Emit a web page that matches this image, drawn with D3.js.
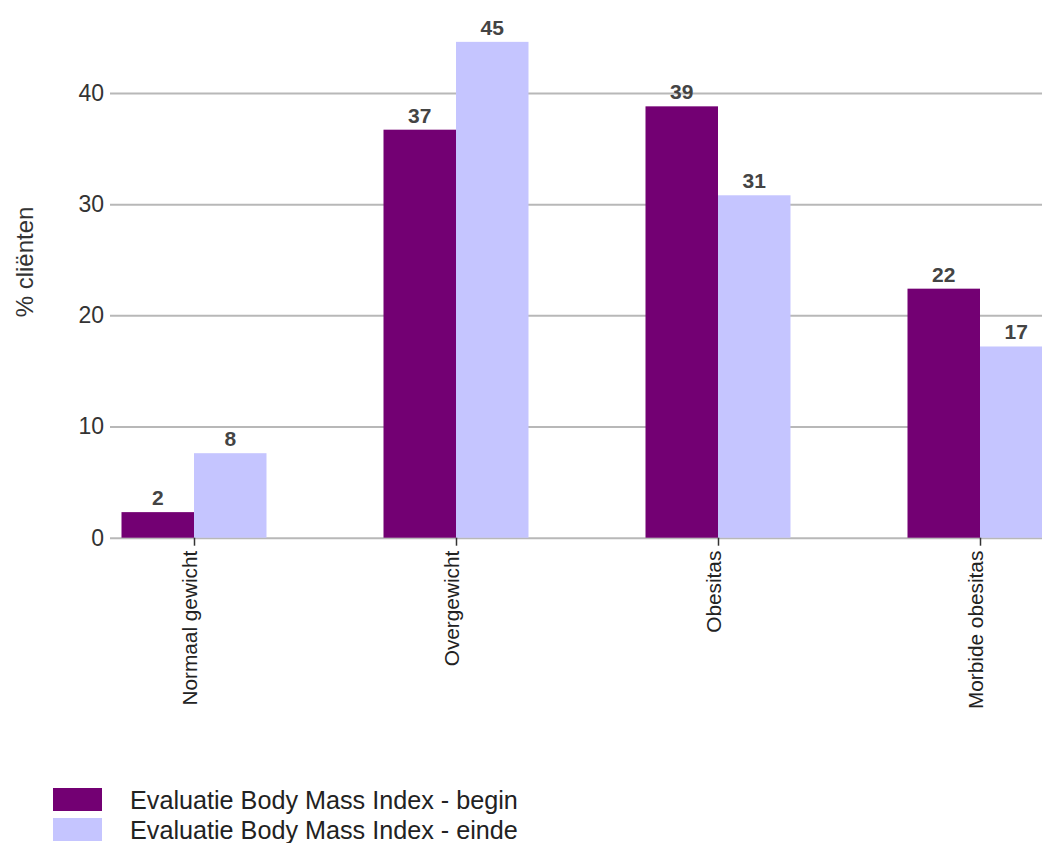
<!DOCTYPE html>
<html>
<head>
<meta charset="utf-8">
<script src="https://cdn.jsdelivr.net/npm/d3@7/dist/d3.min.js"></script>
<style>
  html, body { margin: 0; padding: 0; background: #fff; }
  svg { display: block; font-family: "Liberation Sans", Arial, sans-serif; }
</style>
</head>
<body>
<svg id="chart" width="1042" height="843"></svg>
<script>
// BMI categories and percentage of clients at start and end of treatment
const categories = ["Normaal gewicht", "Overgewicht", "Obesitas", "Morbide obesitas"];
const seriesNames = ["Evaluatie Body Mass Index - begin", "Evaluatie Body Mass Index - einde"];
const beginValues = [2.3, 36.7, 38.8, 22.4];
const eindeValues = [7.6, 44.6, 30.8, 17.2];
const yTicks = [0, 10, 20, 30, 40];
const yLabel = "% cliënten";
const colors = ["#730073", "#c5c5ff"];

const svg = d3.select("#chart");
const W = 1042;

const y = d3.scaleLinear().domain([0, 40]).range([537.7, 93]);
const x = d3.scalePoint().domain(categories).range([194, 980]);
const xSeries = d3.scaleBand().domain([0, 1]).range([-72.5, 72.5]).padding(0);

// horizontal gridlines + y tick labels
const yAxis = d3.axisLeft(y).tickValues(yTicks).tickSize(0).tickPadding(6).tickFormat(d3.format("d"));
const gY = svg.append("g").attr("transform", "translate(110,0)").call(yAxis);
gY.select(".domain").remove();
gY.selectAll(".tick text")
  .attr("font-size", 23).attr("fill", "#333").attr("font-family", "Liberation Sans, Arial, sans-serif");
gY.selectAll(".tick").append("line")
  .attr("x1", 0).attr("x2", W - 110)
  .attr("stroke", "#b8b8b8").attr("stroke-width", 2);

// y axis title
svg.append("text")
  .attr("transform", "translate(33,262) rotate(-90)")
  .attr("text-anchor", "middle")
  .attr("font-size", 24).attr("fill", "#333")
  .text(yLabel);

// bars
const data = categories.map((c, i) => ({ cat: c, vals: [beginValues[i], eindeValues[i]] }));
const groups = svg.append("g").selectAll("g").data(data).join("g")
  .attr("transform", d => `translate(${x(d.cat)},0)`);

groups.selectAll("rect").data(d => d.vals.map((v, s) => ({ v, s }))).join("rect")
  .attr("x", d => xSeries(d.s))
  .attr("width", xSeries.bandwidth())
  .attr("y", d => y(d.v))
  .attr("height", d => y(0) - y(d.v))
  .attr("fill", d => colors[d.s]);

// value labels
groups.selectAll("text.val").data(d => d.vals.map((v, s) => ({ v, s }))).join("text")
  .attr("class", "val")
  .attr("x", d => xSeries(d.s) + xSeries.bandwidth() / 2)
  .attr("y", d => y(d.v) - 7)
  .attr("text-anchor", "middle")
  .attr("font-size", 21).attr("font-weight", "bold").attr("fill", "#444")
  .text(d => d3.format(".0f")(d.v));

// category axis: tick marks + rotated labels
const xAxis = d3.axisBottom(x).tickSize(8).tickPadding(0);
const gX = svg.append("g").attr("transform", `translate(0,${y(0)})`).call(xAxis);
gX.select(".domain").remove();
gX.selectAll(".tick line").attr("stroke", "#333").attr("stroke-width", 1.5);
gX.selectAll(".tick text")
  .attr("font-size", 20.8).attr("fill", "#222")
  .attr("font-family", "Liberation Sans, Arial, sans-serif")
  .attr("text-anchor", "end")
  .attr("dy", 0)
  .attr("transform", "translate(2,13) rotate(-90)")
  .attr("x", 0).attr("y", 0);

// legend
const legend = svg.append("g").selectAll("g").data(seriesNames).join("g")
  .attr("transform", (d, i) => `translate(53,${788 + i * 30})`);
legend.append("rect").attr("width", 49).attr("height", 23).attr("fill", (d, i) => colors[i]);
legend.append("text")
  .attr("x", 77).attr("y", 12).attr("dy", "0.35em")
  .attr("font-size", 25.2).attr("fill", "#222")
  .text(d => d);
</script>
</body>
</html>
